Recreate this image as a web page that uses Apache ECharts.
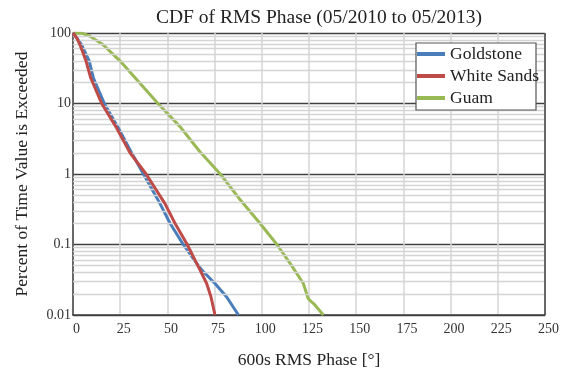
<!DOCTYPE html>
<html>
<head>
<meta charset="utf-8">
<script src="https://cdn.jsdelivr.net/npm/echarts@6/dist/echarts.min.js"></script>
<style>
html,body{margin:0;padding:0;background:#fff;}
#main{width:569px;height:375px;}
</style>
</head>
<body>
<div id="main"></div>
<script>
// values
var yTicks = ["0.01", "0.1", "1", "10", "100"];

var goldstoneX = [0, 2, 4.6, 8.6, 10.8, 16.6, 24, 31, 37.3, 46.1, 51.4, 58.4, 65.5, 68.2, 75.2, 81.4, 87.6];
var goldstoneY = [100, 85, 68, 40, 23, 10, 4.5, 2, 1, 0.38, 0.2, 0.1, 0.054, 0.0435, 0.028, 0.018, 0.01];

var whiteSandsX = [0, 2, 3.7, 6.9, 9.4, 15.2, 23.1, 30.2, 38.7, 48.7, 54, 60.5, 65.5, 67.3, 70.8, 73.1, 75.2];
var whiteSandsY = [100, 85, 68, 40, 23, 10, 4.5, 2, 1, 0.38, 0.2, 0.1, 0.054, 0.0435, 0.028, 0.018, 0.01];

var guamX = [0, 5, 9, 16, 25, 33, 45, 56.7, 67, 78, 88, 99, 108, 115, 122, 124.6, 128, 132.6];
var guamY = [100, 99, 90, 68, 40, 23, 10, 4.7, 2.1, 1, 0.45, 0.2, 0.1, 0.054, 0.028, 0.017, 0.014, 0.01];

function pairs(xs, ys){
	var out = [];
	for(var i=0;i<xs.length;i++){
		out.push([xs[i], ys[i]]);
	}
	return out;
}

// light minor grid lines at 2..9 in every decade
var minorLines = [];
for(var d=0.01; d<99; d*=10){
	for(var k=2;k<=9;k++){
		minorLines.push({yAxis: +(d*k).toPrecision(3)});
	}
}

var font = "Liberation Serif";
var chart = echarts.init(document.getElementById("main"));
var option = {
	animation:false,
	backgroundColor:"#fff",
	title:{
		text:"CDF of RMS Phase (05/2010 to 05/2013)",
		left:314, top:3, textAlign:"center",
		textStyle:{fontFamily:font, fontSize:19.5, fontWeight:"normal", color:"#222"}
	},
	legend:{
		orient:"vertical",
		left:417, top:45,
		padding:0,
		itemGap:4,
		itemWidth:28, itemHeight:4,
		icon:"rect",
		z:12,
		textStyle:{fontFamily:font, fontSize:17.5, lineHeight:18, color:"#222"},
		data:["Goldstone", "White Sands", "Guam"]
	},
	grid:{left:73, right:24, top:33, bottom:60, show:false},
	xAxis:{
		type:"value", min:0, max:250, interval:25,
		name:"600s RMS Phase [°]", nameLocation:"middle", nameGap:36,
		nameTextStyle:{fontFamily:font, fontSize:17.5, color:"#222"},
		axisLine:{show:true, lineStyle:{color:"#404040", width:1.5}},
		axisTick:{show:false},
		axisLabel:{fontFamily:font, fontSize:14, color:"#333", margin:7, padding:[0,0,0,7]},
		splitLine:{show:true, lineStyle:{color:"#d4d4d4", width:1.5}}
	},
	yAxis:{
		type:"log", logBase:10, min:0.01, max:100,
		name:"Percent of Time Value is Exceeded", nameLocation:"middle", nameGap:42,
		nameTextStyle:{fontFamily:font, fontSize:17.5, color:"#222"},
		axisLine:{show:true, lineStyle:{color:"#404040", width:1.5}},
		axisTick:{show:false},
		axisLabel:{fontFamily:font, fontSize:14, color:"#333", margin:2, padding:[3,0,0,0],
			formatter:function(v){
				var s = String(+v.toPrecision(3));
				return yTicks.indexOf(s) >= 0 ? s : "";
			}},
		splitLine:{show:true, lineStyle:{color:"#404040", width:1.3}}
	},
	series:[
		{
			name:"minor", type:"line", data:[], silent:true,
			markLine:{silent:true, symbol:"none", label:{show:false},
				lineStyle:{color:"#d4d4d4", width:1.3, type:"solid"},
				data:minorLines},
			z:1
		},
		{
			name:"Goldstone", type:"line", data:pairs(goldstoneX, goldstoneY),
			symbol:"none", color:"#4a7ebb", lineStyle:{width:3}, z:4
		},
		{
			name:"White Sands", type:"line", data:pairs(whiteSandsX, whiteSandsY),
			symbol:"none", color:"#be4b48", lineStyle:{width:3}, z:5
		},
		{
			name:"Guam", type:"line", data:pairs(guamX, guamY),
			symbol:"none", color:"#98b954", lineStyle:{width:3}, z:3
		}
	],
	graphic:[
		// right border of plot box
		{type:"line", shape:{x1:545, y1:33, x2:545, y2:315}, style:{stroke:"#404040", lineWidth:1.5}, z:10},
		// legend frame (text runs slightly past it, as in the original)
		{type:"rect", shape:{x:416, y:43, width:120, height:67}, style:{fill:"#fff", stroke:"#555", lineWidth:1.2}, z:11}
	]
};
chart.setOption(option);
</script>
</body>
</html>
